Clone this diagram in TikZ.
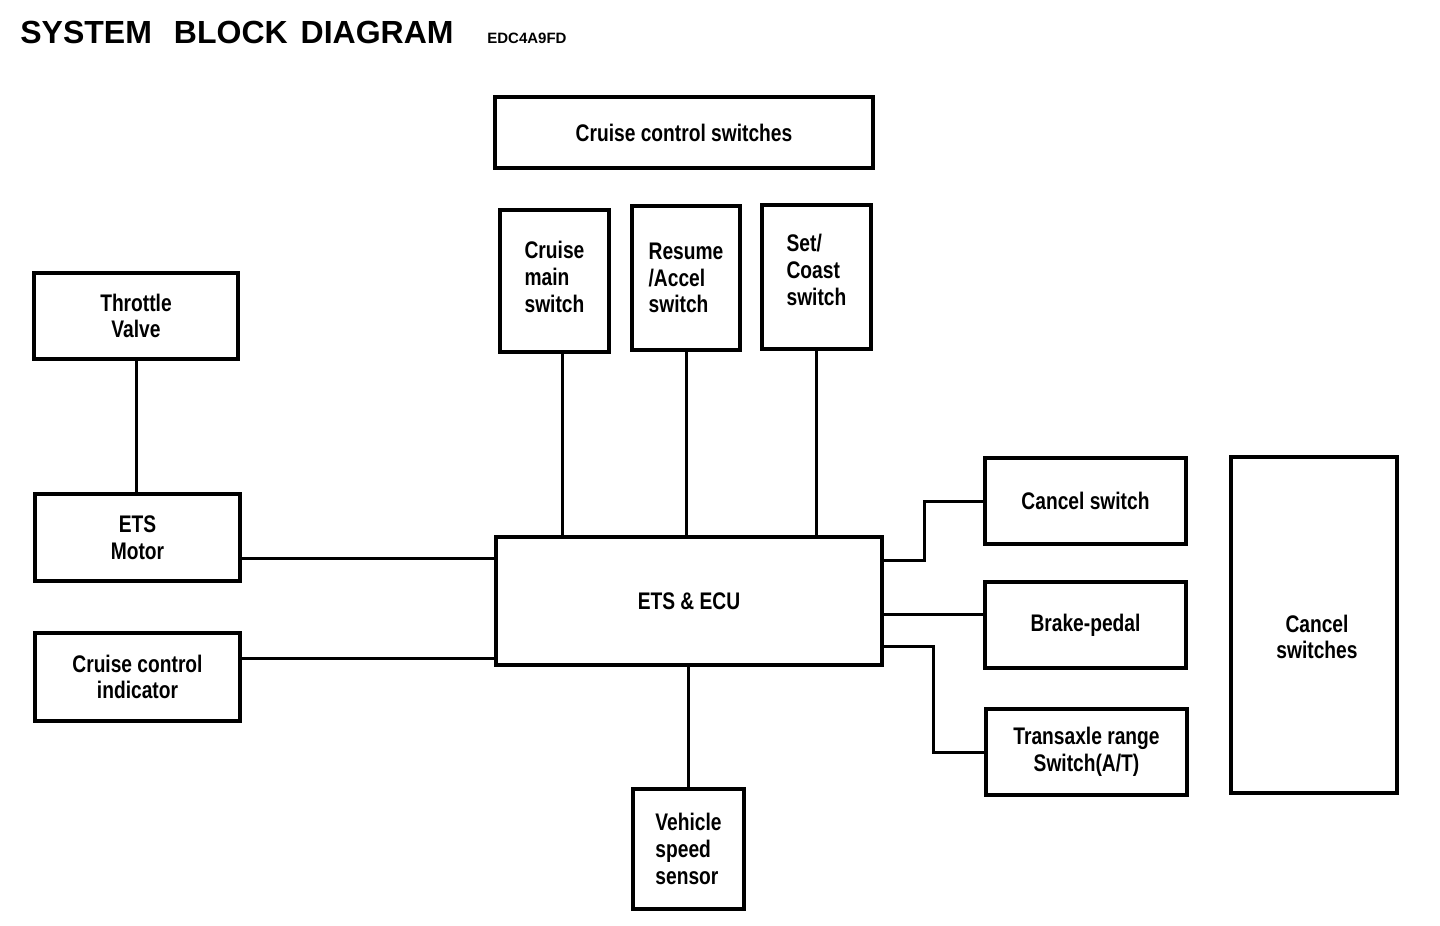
\documentclass[tikz,border=0pt]{standalone}
\usepackage{fontspec}
\setmainfont{Liberation Sans}
\newfontfamily\boxfont[FakeStretch=0.8]{Liberation Sans}
\begin{document}
\begin{tikzpicture}[x=0.5pt,y=-0.5pt,
  txt/.style={font=\boxfont\bfseries\fontsize{12}{13.3}\selectfont},
  blk/.style={draw, line width=1.8pt, inner sep=0pt, align=center, txt},
  lblk/.style={blk, align=left},
  wire/.style={line width=1.5pt}]
\useasboundingbox (0,0) rectangle (1440,926);
\node[anchor=west, inner sep=0pt, font=\bfseries\fontsize{16}{19}\selectfont] (title) at (20,32)
  {SYSTEM\hspace{11pt}BLOCK\hspace{6.5pt}DIAGRAM};
\node[anchor=west, inner sep=0pt, font=\bfseries\fontsize{7.5}{9}\selectfont] (code) at (487,38) {EDC4A9FD};

\node[blk, minimum width=189pt, minimum height=35.5pt] (ccs) at (684,132.5) {Cruise control switches};
\node[lblk, minimum width=54.5pt, minimum height=71pt,
  label={[txt, align=left, yshift=2pt]center:Cruise\\main\\switch}] (cm) at (554.5,281) {};
\node[lblk, minimum width=54pt, minimum height=72pt] (ra) at (686,278) {Resume\\/Accel\\switch};
\node[lblk, minimum width=54.5pt, minimum height=72pt,
  label={[txt, align=left, yshift=3.5pt]center:Set/\\Coast\\switch}] (sc) at (816.5,277) {};
\node[blk, minimum width=102pt, minimum height=43pt] (tv) at (136,316) {Throttle\\Valve};
\node[blk, minimum width=102.5pt, minimum height=43.5pt] (ets) at (137.5,537.5) {ETS\\Motor};
\node[blk, minimum width=102.5pt, minimum height=44pt] (ind) at (137.5,677) {Cruise control\\indicator};
\node[blk, minimum width=193pt, minimum height=64pt] (ecu) at (689,601) {ETS \& ECU};
\node[blk, minimum width=100.5pt, minimum height=43pt] (cs) at (1085.5,501) {Cancel switch};
\node[blk, minimum width=100.5pt, minimum height=43pt] (bp) at (1085.5,625) {Brake-pedal};
\node[blk, minimum width=100.5pt, minimum height=43pt] (tr) at (1086.5,752) {Transaxle range\\Switch(A/T)};
\node[blk, minimum width=83pt, minimum height=168pt,
  label={[txt, align=center, yshift=-6pt, xshift=1.5pt]center:Cancel\\switches}] (cx) at (1314,625) {};
\node[lblk, minimum width=55.5pt, minimum height=60pt] (vs) at (688.5,849) {Vehicle\\speed\\sensor};

\draw[wire] (tv.south) -- (tv.south |- ets.north);
\draw[wire] ([yshift=-10.25pt]ets.east) -- ([yshift=-10.25pt]ets.east -| ecu.west);
\draw[wire] ([yshift=9.5pt]ind.east) -- ([yshift=9.5pt]ind.east -| ecu.west);
\draw[wire] ([xshift=3.75pt]cm.south) -- ([xshift=3.75pt]cm.south |- ecu.north);
\draw[wire] (ra.south) -- (ra.south |- ecu.north);
\draw[wire] (sc.south) -- (sc.south |- ecu.north);
\draw[wire] ([yshift=20.5pt]ecu.east) -- ++(41,0) |- (cs.west);
\draw[wire] ([yshift=-6.5pt]ecu.east) -- ([yshift=-6.5pt]ecu.east -| bp.west);
\draw[wire] ([yshift=-22.5pt]ecu.east) -- ++(50,0) |- (tr.west);
\draw[wire] (vs.north) -- (vs.north |- ecu.south);
\end{tikzpicture}
\end{document}
